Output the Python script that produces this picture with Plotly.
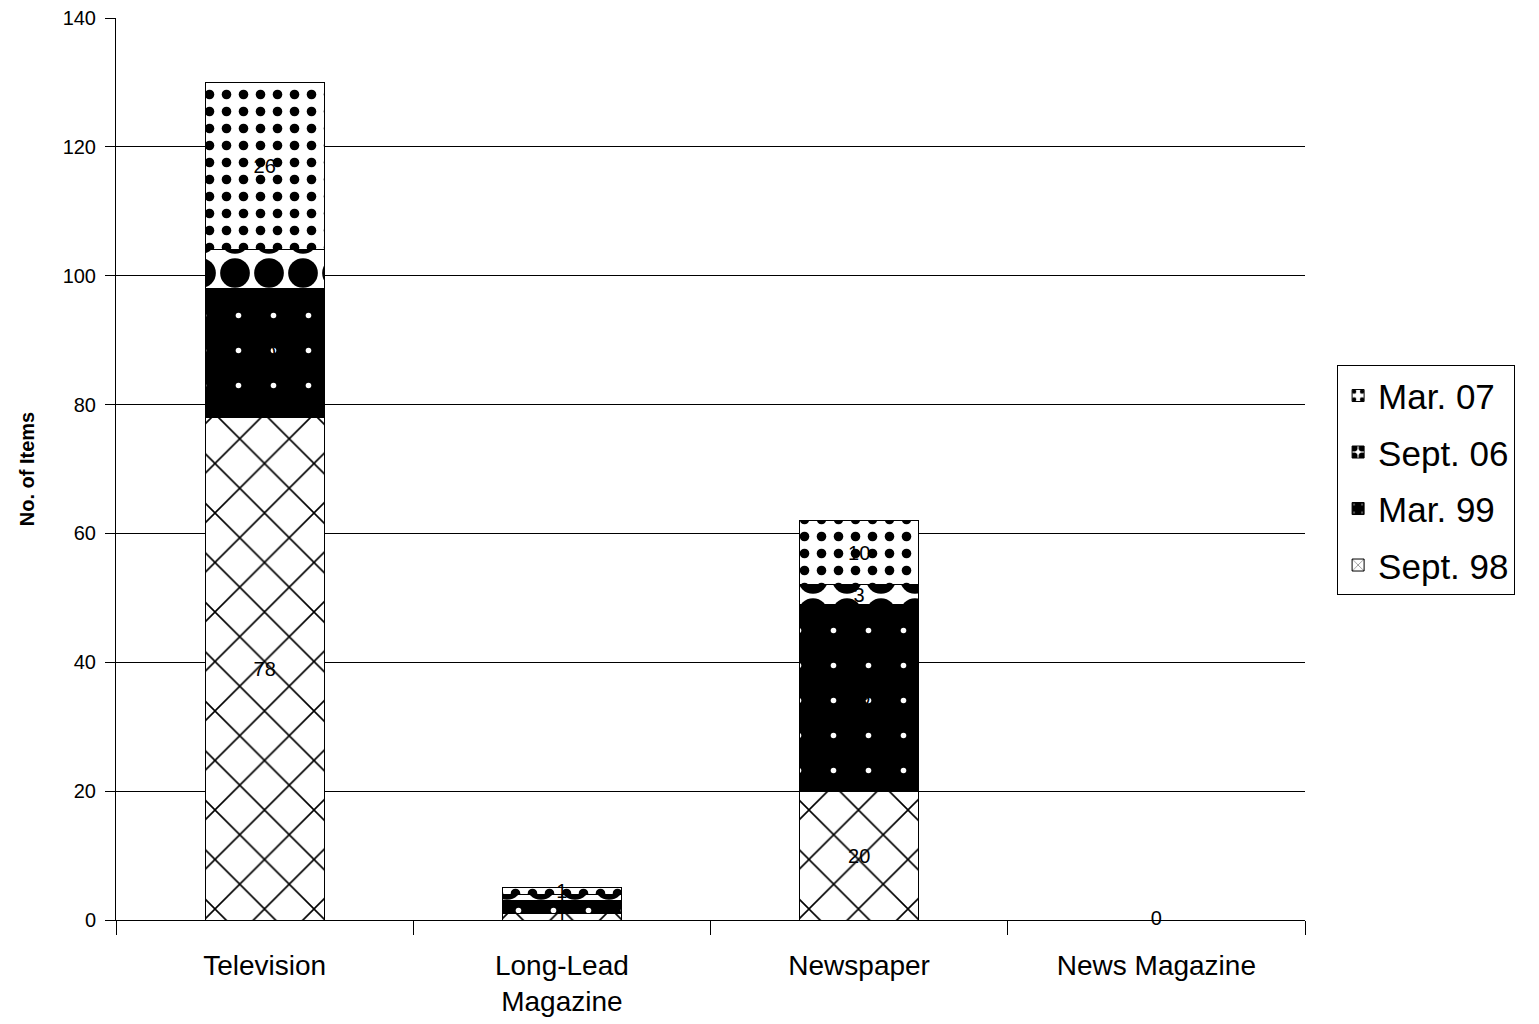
import plotly.graph_objects as go

# Media coverage counts per outlet type, by survey wave
categories = ["Television", "Long-Lead<br>Magazine", "Newspaper", "News Magazine"]
sept_98 = [78, 1, 20, 0]
mar_99 = [20, 2, 29, 0]
sept_06 = [6, 1, 3, 0]
mar_07 = [26, 1, 10, 0]

# (name, values, fill pattern, legend rank: latest wave listed first)
series = [
    ("Sept. 98", sept_98, dict(shape="x", bgcolor="white", fgcolor="black", fgopacity=1, size=35, solidity=0.09), 4),
    ("Mar. 99", mar_99, dict(shape=".", bgcolor="black", fgcolor="white", fgopacity=1, size=35, solidity=0.02), 3),
    ("Sept. 06", sept_06, dict(shape=".", bgcolor="white", fgcolor="black", fgopacity=1, size=34, solidity=0.6), 2),
    ("Mar. 07", mar_07, dict(shape=".", bgcolor="white", fgcolor="black", fgopacity=1, size=17, solidity=0.25), 1),
]

font_family = "Arial, Liberation Sans, sans-serif"

fig = go.Figure()
for name, values, pattern, rank in series:
    fig.add_trace(go.Bar(
        name=name,
        legendgroup=name,
        legendrank=rank,
        x=categories,
        y=values,
        text=[str(v) if v else "" for v in values],
        textposition="inside",
        insidetextanchor="middle",
        constraintext="none",
        textangle=0,
        textfont=dict(family=font_family, size=20, color="black"),
        marker=dict(color="white", pattern=pattern,
                    line=dict(color="black", width=1)),
    ))

# zero-valued categories still carry a value label on the baseline
totals = [a + b + c + d for a, b, c, d in zip(sept_98, mar_99, sept_06, mar_07)]
zero_cats = [c for c, t in zip(categories, totals) if t == 0]
fig.add_trace(go.Scatter(
    x=zero_cats, y=[0] * len(zero_cats), mode="text",
    text=["0"] * len(zero_cats),
    textfont=dict(family=font_family, size=20, color="black"),
    showlegend=False, hoverinfo="skip", cliponaxis=False,
))

fig.update_layout(
    width=1539, height=1024,
    barmode="stack",
    bargap=0.6,
    plot_bgcolor="white",
    paper_bgcolor="white",
    margin=dict(l=116, r=234, t=18, b=104),
    font=dict(family=font_family, color="black"),
    legend=dict(
        traceorder="grouped",
        x=1.027, xanchor="left",
        y=0.615, yanchor="top",
        font=dict(family=font_family, size=35, color="black"),
        bordercolor="black", borderwidth=1,
        bgcolor="white",
        itemwidth=30,
        tracegroupgap=8,
    ),
    xaxis=dict(
        automargin=False,
        showline=True, linecolor="black", linewidth=1,
        ticks="outside", tickson="boundaries", ticklen=14, tickcolor="black",
        tickfont=dict(family=font_family, size=28, color="black"),
        ticklabelstandoff=20,
        showgrid=False,
    ),
    yaxis=dict(
        automargin=False,
        range=[0, 140], dtick=20,
        showline=True, linecolor="black", linewidth=1,
        ticks="outside", ticklen=10, tickcolor="black",
        tickfont=dict(family=font_family, size=20, color="black"),
        ticklabelstandoff=5,
        showgrid=True, gridcolor="black", gridwidth=1,
        zeroline=False,
        title=dict(text="<b>No. of Items</b>",
                   font=dict(family=font_family, size=20, color="black"),
                   standoff=22),
    ),
)

fig.write_html("out.html")
